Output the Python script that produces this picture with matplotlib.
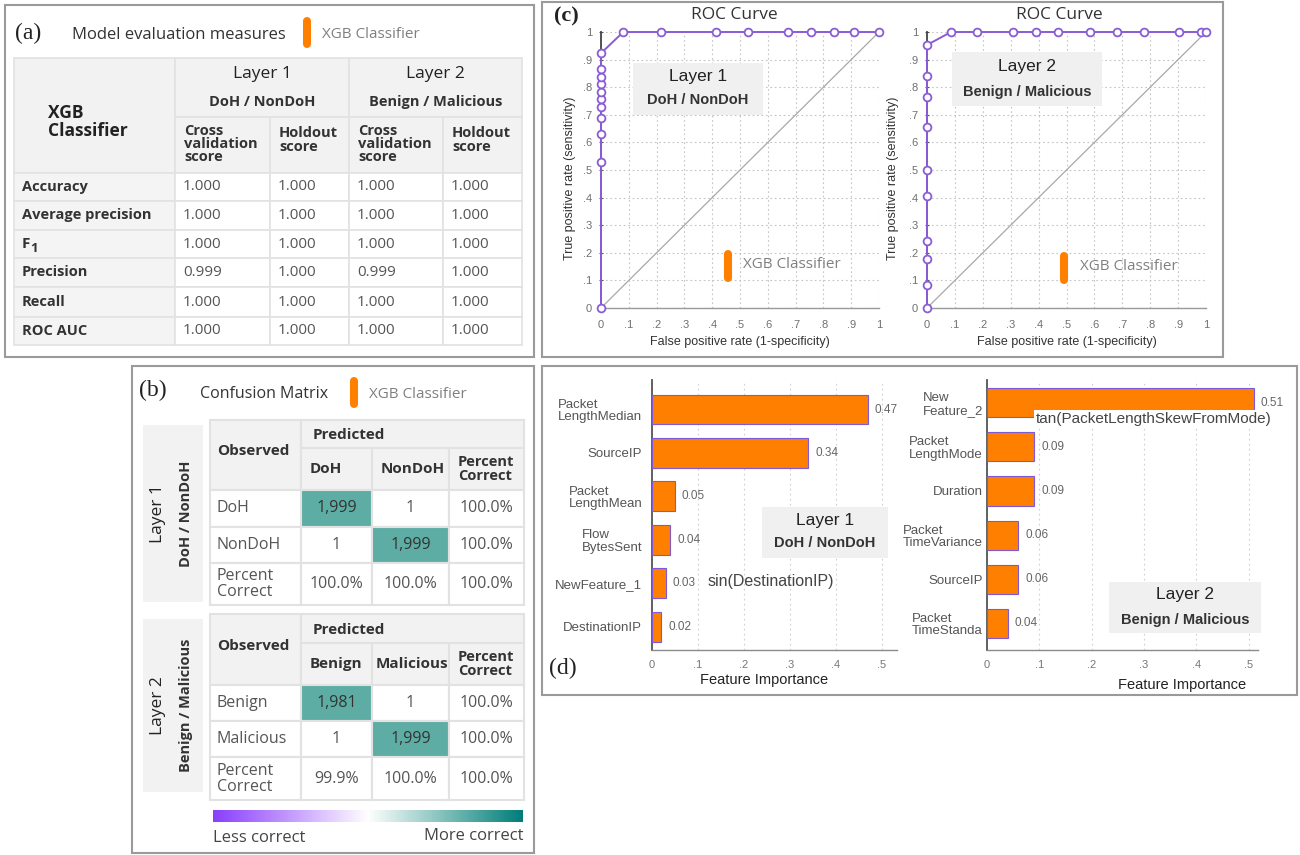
import numpy as np
import matplotlib
matplotlib.use("Agg")
import matplotlib.pyplot as plt
from matplotlib.patches import Rectangle
from matplotlib.lines import Line2D
from matplotlib.colors import LinearSegmentedColormap

# ---------------- data ----------------
metric_names = ["Accuracy", "Average precision", "F₁", "Precision", "Recall", "ROC AUC"]
score_headers = ["Cross\nvalidation\nscore", "Holdout\nscore", "Cross\nvalidation\nscore", "Holdout\nscore"]
layer1_cv = [1.000, 1.000, 1.000, 0.999, 1.000, 1.000]
layer1_holdout = [1.000, 1.000, 1.000, 1.000, 1.000, 1.000]
layer2_cv = [1.000, 1.000, 1.000, 0.999, 1.000, 1.000]
layer2_holdout = [1.000, 1.000, 1.000, 1.000, 1.000, 1.000]

cm1_classes = ["DoH", "NonDoH"]
cm1_counts = [[1999, 1], [1, 1999]]
cm1_row_pct = [100.0, 100.0]
cm1_col_pct = [100.0, 100.0]
cm1_total_pct = 100.0

cm2_classes = ["Benign", "Malicious"]
cm2_counts = [[1981, 1], [1, 1999]]
cm2_row_pct = [100.0, 100.0]
cm2_col_pct = [99.9, 100.0]
cm2_total_pct = 100.0

roc1_fpr = [0, 0, 0, 0, 0, 0, 0, 0, 0, 0, 0, 0.08, 0.215, 0.414, 0.528, 0.674, 0.754, 0.838, 0.91, 1.0]
roc1_tpr = [0, 0.53, 0.63, 0.69, 0.73, 0.756, 0.784, 0.81, 0.836, 0.865, 0.923, 1, 1, 1, 1, 1, 1, 1, 1, 1]
roc2_fpr = [0, 0, 0, 0, 0, 0, 0, 0, 0, 0, 0.086, 0.178, 0.309, 0.391, 0.468, 0.584, 0.68, 0.779, 0.904, 0.982, 1.0]
roc2_tpr = [0, 0.083, 0.176, 0.244, 0.407, 0.5, 0.657, 0.766, 0.84, 0.953, 1, 1, 1, 1, 1, 1, 1, 1, 1, 1, 1]

fi1_names = ["Packet\nLengthMedian", "SourceIP", "Packet\nLengthMean", "Flow\nBytesSent", "NewFeature_1", "DestinationIP"]
fi1_values = [0.47, 0.34, 0.05, 0.04, 0.03, 0.02]
fi2_names = ["New\nFeature_2", "Packet\nLengthMode", "Duration", "Packet\nTimeVariance", "SourceIP", "Packet\nTimeStanda"]
fi2_values = [0.51, 0.09, 0.09, 0.06, 0.06, 0.04]

axis_ticks_roc = [0, 0.1, 0.2, 0.3, 0.4, 0.5, 0.6, 0.7, 0.8, 0.9, 1.0]
axis_labels_roc = ["0", ".1", ".2", ".3", ".4", ".5", ".6", ".7", ".8", ".9", "1"]
axis_ticks_fi = [0, 0.1, 0.2, 0.3, 0.4, 0.5]
axis_labels_fi = ["0", ".1", ".2", ".3", ".4", ".5"]

# ---------------- style ----------------
ORANGE = "#ff8000"
PURPLE = "#8a5cd6"
TEAL = "#5eada5"
HDR = "#f2f2f2"
GRIDC = "#e2e2e2"
UI = ["Open Sans", "DejaVu Sans"]
ARIAL = ["Liberation Sans", "DejaVu Sans"]
SERIF = ["Liberation Serif", "DejaVu Serif"]

plt.rcParams["font.family"] = UI

W, H = 1300, 855
fig = plt.figure(figsize=(W / 100, H / 100), dpi=100)
fig.patch.set_facecolor("white")


def text(x, y, s, **kw):
    kw.setdefault("va", "center")
    kw.setdefault("zorder", 6)
    return fig.text(x / W, 1 - y / H, s, **kw)


def rect(x0, y0, x1, y1, fc="none", ec="none", lw=0.0, z=1):
    fig.add_artist(Rectangle((x0 / W, 1 - y1 / H), (x1 - x0) / W, (y1 - y0) / H,
                             transform=fig.transFigure, facecolor=fc, edgecolor=ec,
                             linewidth=lw, zorder=z))


def pill(x, y0, y1):
    fig.add_artist(Line2D([x / W, x / W], [1 - (y0 + 4) / H, 1 - (y1 - 4) / H],
                          transform=fig.transFigure, color=ORANGE, lw=5.8,
                          solid_capstyle="round", zorder=6))


def axes_px(x0, y0, x1, y1):
    ax = fig.add_axes([x0 / W, 1 - y1 / H, (x1 - x0) / W, (y1 - y0) / H])
    ax.set_facecolor("none")
    return ax


def legend_item(x, y0, y1, tx, ty):
    pill(x, y0, y1)
    text(tx, ty, "XGB Classifier", fontsize=11, color="#808080", family=UI)


def layer_badge(x0, y0, x1, y1, t1, t2, y_t1, y_t2):
    rect(x0, y0, x1, y1, fc="#f0f0f0", z=5)
    cx = (x0 + x1) / 2
    text(cx, y_t1, t1, fontsize=12.5, color="#222222", ha="center", family=ARIAL)
    text(cx, y_t2, t2, fontsize=10.5, color="#333333", ha="center", weight="bold", family=ARIAL)


def metric_label(x, y, name):
    # subscripted names such as F₁ are drawn as a base letter plus a lowered digit
    if name.endswith("₁"):
        t = text(x, y, name[:-1], fontsize=11, weight="bold", color="#333333")
        text(x + 8, y + 4, "1", fontsize=9.5, weight="bold", color="#333333")
        return t
    return text(x, y, name, fontsize=10.5, weight="bold", color="#333333")


# ---------------- panel frames ----------------
for (x0, y0, x1, y1) in [(5, 5, 534, 357), (132, 366, 534, 853), (542, 2, 1223, 357), (542, 366, 1297, 695)]:
    rect(x0, y0, x1, y1, ec="#9a9a9a", lw=1.5, z=7)

text(15, 33, "(a)", fontsize=17, family=SERIF, color="#222222")
text(139, 390, "(b)", fontsize=17, family=SERIF, color="#222222")
text(554, 16, "(c)", fontsize=16, family=SERIF, weight="bold", color="#222222")
text(549, 668, "(d)", fontsize=17, family=SERIF, color="#222222")

# ---------------- (a) evaluation table ----------------
text(72, 35, "Model evaluation measures", fontsize=12, color="#333333")
legend_item(307, 17, 48, 322, 35)

cx = [14, 175, 270, 349, 443, 522]
ry = [58, 117, 173, 201, 230, 258, 287, 317, 345]
rect(cx[0], ry[0], cx[1], ry[2], fc=HDR, ec=GRIDC, lw=1.2, z=2)
for j in (1, 3):
    rect(cx[j], ry[0], cx[j + 2], ry[1], fc=HDR, ec=GRIDC, lw=1.2, z=2)
for j in range(1, 5):
    rect(cx[j], ry[1], cx[j + 1], ry[2], fc=HDR, ec=GRIDC, lw=1.2, z=2)
for i in range(len(metric_names)):
    rect(cx[0], ry[i + 2], cx[1], ry[i + 3], fc="#f4f4f4", ec=GRIDC, lw=1.2, z=2)
    for j in range(1, 5):
        rect(cx[j], ry[i + 2], cx[j + 1], ry[i + 3], fc="white", ec=GRIDC, lw=1.2, z=2)

text(48, 122, "XGB\nClassifier", fontsize=12.5, weight="bold", color="#222222", linespacing=1.05)
for j, (l1, l2) in zip((1, 3), [("Layer 1", "DoH / NonDoH"), ("Layer 2", "Benign / Malicious")]):
    mid = (cx[j] + cx[j + 2]) / 2
    text(mid, 74, l1, fontsize=12.5, color="#222222", ha="center")
    text(mid, 102, l2, fontsize=10.5, color="#333333", ha="center", weight="bold")
for j, h in enumerate(score_headers):
    ny = h.count("\n") + 1
    text(cx[j + 1] + 9, 144 if ny == 3 else 140, h, fontsize=10.5, weight="bold",
         color="#333333", linespacing=0.95)

columns = [layer1_cv, layer1_holdout, layer2_cv, layer2_holdout]
for i, name in enumerate(metric_names):
    yc = (ry[i + 2] + ry[i + 3]) / 2
    metric_label(22, yc, name)
    for j, col in enumerate(columns):
        text(cx[j + 1] + 8, yc, f"{col[i]:.3f}", fontsize=11, color="#555555")

# ---------------- (b) confusion matrices ----------------
text(200, 394, "Confusion Matrix", fontsize=11.5, color="#333333")
legend_item(354, 377, 408, 369, 394)

bx = [210, 301, 372, 449, 524]


def confusion_table(rows, classes, counts, row_pct, col_pct, total, side_box, l1, l2):
    # side label box
    sx0, sy0, sx1, sy1 = side_box
    rect(sx0, sy0, sx1, sy1, fc=HDR, z=2)
    text(158, (sy0 + sy1) / 2, l1, fontsize=12.5, rotation=90, ha="center", color="#222222")
    text(186, (sy0 + sy1) / 2, l2, fontsize=10.5, rotation=90, ha="center",
         weight="bold", color="#333333")
    # header cells
    rect(bx[0], rows[0], bx[1], rows[2], fc=HDR, ec=GRIDC, lw=1.5, z=2)
    rect(bx[1], rows[0], bx[4], rows[1], fc=HDR, ec=GRIDC, lw=1.5, z=2)
    for j in range(1, 4):
        rect(bx[j], rows[1], bx[j + 1], rows[2], fc=HDR, ec=GRIDC, lw=1.5, z=2)
    text(bx[0] + 7, (rows[0] + rows[2]) / 2 - 4, "Observed", fontsize=11, weight="bold", color="#333333")
    text(bx[1] + 12, (rows[0] + rows[1]) / 2 + 1, "Predicted", fontsize=11, weight="bold", color="#333333")
    headers = classes + ["Percent\nCorrect"]
    for j, h in enumerate(headers):
        pad = 4 if len(h) > 7 and "\n" not in h else 9
        text(bx[j + 1] + pad, (rows[1] + rows[2]) / 2, h, fontsize=10.5 if "\n" in h else 11,
             weight="bold", color="#333333", linespacing=0.95)
    # body
    labels = classes + ["Percent\nCorrect"]
    for i in range(3):
        y0, y1 = rows[i + 2], rows[i + 3]
        yc = (y0 + y1) / 2
        rect(bx[0], y0, bx[1], y1, fc="white", ec=GRIDC, lw=1.5, z=2)
        text(bx[0] + 7, yc, labels[i], fontsize=11.5, color="#555555", linespacing=1.0)
        for j in range(3):
            fc = TEAL if (i < 2 and j == i) else "white"
            rect(bx[j + 1], y0, bx[j + 2], y1, fc=fc, ec=GRIDC, lw=1.5, z=2)
            if i < 2 and j < 2:
                s = f"{counts[i][j]:,}"
            elif i < 2:
                s = f"{row_pct[i]:.1f}%"
            elif j < 2:
                s = f"{col_pct[j]:.1f}%"
            else:
                s = f"{total:.1f}%"
            col = "#333333" if fc == TEAL else "#555555"
            text((bx[j + 1] + bx[j + 2]) / 2, yc, s, fontsize=11.5, color=col, ha="center")


confusion_table([420, 448, 490, 527, 563, 605], cm1_classes, cm1_counts, cm1_row_pct,
                cm1_col_pct, cm1_total_pct, (143, 425, 203, 602), "Layer 1", "DoH / NonDoH")
confusion_table([614, 643, 685, 721, 757, 800], cm2_classes, cm2_counts, cm2_row_pct,
                cm2_col_pct, cm2_total_pct, (143, 619, 203, 792), "Layer 2", "Benign / Malicious")

# gradient scale
cbar_cmap = LinearSegmentedColormap.from_list(
    "correct", ["#8a3ffc", "#c49bff", "#ffffff", "#7fbfb9", "#007d79"])
cax = axes_px(213, 810, 523, 822)
cax.imshow(np.linspace(0, 1, 256)[None, :], aspect="auto", cmap=cbar_cmap, extent=(0, 1, 0, 1))
cax.set_axis_off()
text(213, 838, "Less correct", fontsize=12, color="#444444")
text(523, 836, "More correct", fontsize=12, color="#444444", ha="right")


# ---------------- (c) ROC curves ----------------
def roc_panel(x0, x1, fpr, tpr, title_x, ylab_x):
    ax = axes_px(x0, 32, x1, 308)
    ax.set_xlim(0, 1)
    ax.set_ylim(0, 1)
    ax.set_xticks(axis_ticks_roc)
    ax.set_xticklabels(axis_labels_roc)
    ax.set_yticks(axis_ticks_roc)
    ax.set_yticklabels(axis_labels_roc)
    ax.tick_params(axis="both", labelsize=8, labelcolor="#707070", colors="#555555",
                   length=3, width=0.8, direction="inout", pad=5)
    ax.tick_params(axis="x", length=0, pad=9)
    for lab in ax.get_xticklabels() + ax.get_yticklabels():
        lab.set_family(ARIAL)
    for s in ("top", "right"):
        ax.spines[s].set_visible(False)
    ax.spines["left"].set_color("#444444")
    ax.spines["left"].set_linewidth(1.3)
    ax.spines["bottom"].set_color("#999999")
    ax.spines["bottom"].set_linewidth(1.0)
    ax.grid(True, ls=(0, (1.5, 2.5)), color="#c4c4c4", lw=0.8)
    ax.set_axisbelow(True)
    ax.plot([0, 1], [0, 1], color="#a8a8a8", lw=0.9, zorder=2)
    ax.plot(fpr, tpr, color=PURPLE, lw=1.4, marker="o", ms=5.6, mfc="white",
            mec=PURPLE, mew=1.3, clip_on=False, zorder=4)
    text(title_x, 15, "ROC Curve", fontsize=12.5, color="#333333", ha="center")
    text((x0 + x1) / 2, 342, "False positive rate (1-specificity)", fontsize=9,
         color="#333333", ha="center", family=ARIAL)
    text(ylab_x, 178, "True positive rate (sensitivity)", fontsize=9, color="#333333",
         ha="center", rotation=90, family=ARIAL)
    return ax


roc_panel(601, 879, roc1_fpr, roc1_tpr, 734, 570)
roc_panel(927, 1206, roc2_fpr, roc2_tpr, 1059, 893)
layer_badge(633, 63, 763, 115, "Layer 1", "DoH / NonDoH", 77, 100)
layer_badge(952, 52, 1102, 106, "Layer 2", "Benign / Malicious", 66, 92)
legend_item(728, 250, 282, 743, 264)
legend_item(1064, 252, 284, 1080, 266)


# ---------------- (d) feature importance ----------------
def importance_panel(x0, x1, names, values, xmax, ylim, bar_h, label_pad, xlab_x, xlab_y):
    ax = axes_px(x0, 380, x1, 650)
    ypos = np.arange(len(values))
    ax.barh(ypos, values, height=bar_h, color=ORANGE, edgecolor="#7d5ad8", lw=0.8, zorder=3)
    ax.set_xlim(0, xmax)
    ax.set_ylim(*ylim)
    ax.set_yticks(ypos)
    ax.set_yticklabels(names, multialignment="left", fontsize=9.5, color="#555555", family=ARIAL,
                       linespacing=1.05)
    ax.set_xticks(axis_ticks_fi)
    ax.set_xticklabels(axis_labels_fi, fontsize=8, color="#777777", family=ARIAL)
    ax.tick_params(axis="y", length=0, pad=label_pad)
    ax.tick_params(axis="x", length=0, pad=7)
    for s in ("top", "right"):
        ax.spines[s].set_visible(False)
    ax.spines["left"].set_color("#555555")
    ax.spines["left"].set_linewidth(1.3)
    ax.spines["bottom"].set_color("#8a8a8a")
    ax.spines["bottom"].set_linewidth(1.0)
    ax.grid(True, axis="x", ls=(0, (1.5, 3)), color="#cfcfcf", lw=0.8)
    ax.set_axisbelow(True)
    for y, v in zip(ypos, values):
        ax.annotate(f"{v:.2f}", (v, y), xytext=(5, 0), textcoords="offset points",
                    va="center", fontsize=8.5, color="#666666", family=ARIAL)
    text(xlab_x, xlab_y, "Feature Importance", fontsize=10.5, color="#222222", ha="center",
         family=ARIAL)
    return ax


importance_panel(652, 897, fi1_names, fi1_values, 0.533, (5.54, -0.68), 0.69, 7, 764, 680)
importance_panel(987, 1258, fi2_names, fi2_values, 0.518, (5.61, -0.52), 0.66, 3, 1182, 685)

text(708, 581, "sin(DestinationIP)", fontsize=11.5, color="#444444", family=ARIAL)
text(1036, 419, "tan(PacketLengthSkewFromMode)", fontsize=11, color="#444444", family=ARIAL,
     bbox=dict(facecolor="white", edgecolor="none", pad=1.5))
layer_badge(762, 507, 888, 558, "Layer 1", "DoH / NonDoH", 520, 543)
layer_badge(1109, 582, 1261, 633, "Layer 2", "Benign / Malicious", 594, 620)

fig.savefig("out.png", dpi=100, facecolor="white")
